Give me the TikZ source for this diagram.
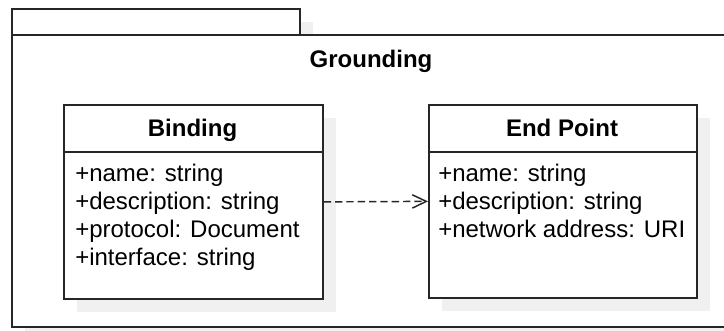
\documentclass[tikz,border=0pt]{standalone}
\usepackage{fontspec}
\setmainfont{Liberation Sans}
\usetikzlibrary{arrows.meta,shadows}

\tikzset{
  umlline/.style={draw=black!85, line width=1.3pt},
  umlshadow/.style={drop shadow={shadow xshift=9.75pt, shadow yshift=-9.75pt, fill=black!6, opacity=1}},
  classbox/.style={umlline, fill=white, umlshadow, rectangle, inner sep=0pt, anchor=north west},
  classtitle/.style={anchor=base, inner sep=0pt, font=\fontsize{18}{21}\selectfont\bfseries},
  attr/.style={anchor=base west, inner sep=0pt, font=\fontsize{18}{21}\selectfont},
  dep/.style={umlline, line width=1.1pt, dash pattern=on 5.5pt off 3pt, -{Straight Barb[length=10.5pt, width=10pt]}},
}

\begin{document}
\begin{tikzpicture}[x=0.75pt,y=0.75pt,yscale=-1,xscale=1]
\useasboundingbox (0,0) rectangle (724,330);
\clip (0,0) rectangle (724,330);

%Shape: Package tab
\node (tab) [classbox, minimum width=216pt, minimum height=19.5pt] at (11,8) {};
%Shape: Package body
\node (grounding) [classbox, minimum width=540pt, minimum height=219pt] at (11,34) {};
% Text Node
\node (groundingname) [classtitle] at (371,67) {Grounding};

%Shape: Class Binding
\node (binding) [classbox, minimum width=194.25pt, minimum height=145.5pt] at (63,104) {};
\draw [umlline] ([yshift=36pt]binding.north west) -- ([yshift=36pt]binding.north east);
% Text Node
\node (bindingname) [classtitle] at (192.5,136) {Binding};
\node (bname) [attr] at (75,181) {+name: string};
\node (bdesc) [attr] at (75,209) {+description: string};
\node (bprot) [attr] at (75,237) {+protocol: Document};
\node (bintf) [attr] at (75,265) {+interface: string};

%Shape: Class End Point
\node (endpoint) [classbox, minimum width=201pt, minimum height=144.75pt] at (428,104) {};
\draw [umlline] ([yshift=36pt]endpoint.north west) -- ([yshift=36pt]endpoint.north east);
% Text Node
\node (endpointname) [classtitle] at (562,136) {End Point};
\node (ename) [attr] at (438,181) {+name: string};
\node (edesc) [attr] at (438,209) {+description: string};
\node (eaddr) [attr] at (438,237) {+network address: URI};

%Dependency
\draw [dep] (binding.east) -- (endpoint.west);

\end{tikzpicture}
\end{document}
